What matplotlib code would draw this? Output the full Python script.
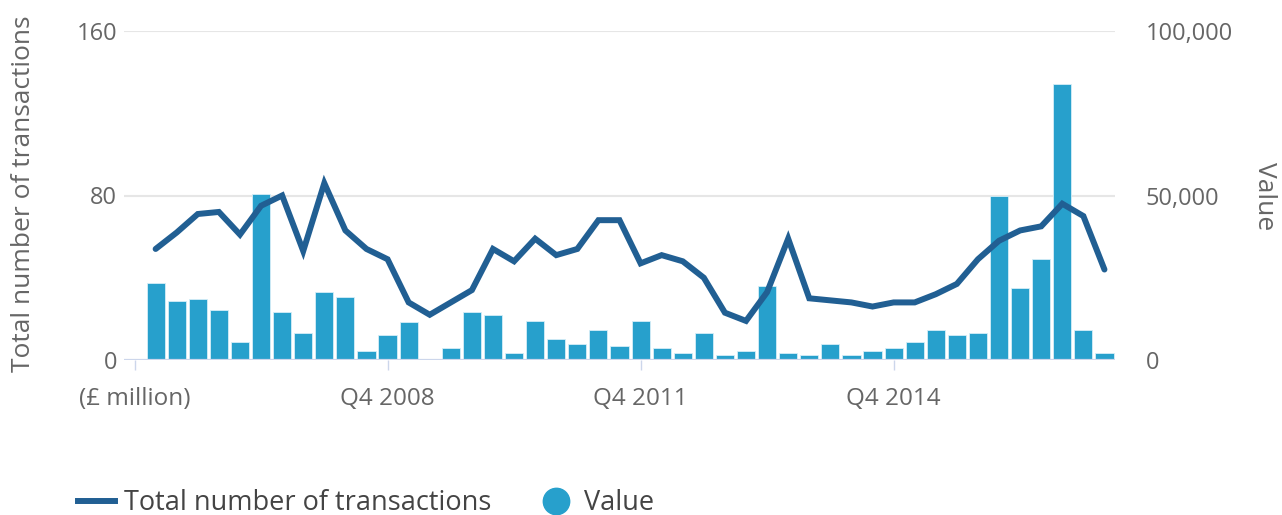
import numpy as np
import matplotlib.pyplot as plt
from matplotlib.lines import Line2D

# categories: header row then quarters Q1 2006 .. Q2 2017
quarters = ["(£ million)"]
for year in range(2006, 2018):
    for q in range(1, 5):
        quarters.append("Q%d %d" % (q, year))
quarters = quarters[:47]

# total number of transactions (left axis)
transactions = [None, 54, 62, 71, 72, 61, 75, 80, 53, 86, 63,
                54, 49, 28, 22, 28, 34, 54, 48, 59, 51,
                54, 68, 68, 47, 51, 48, 40, 23, 19, 33,
                59, 30, 29, 28, 26, 28, 28, 32, 37, 49,
                58, 63, 65, 76, 70, 44]

# value, £ million (right axis)
value = [None, 23300, 17800, 18500, 15100, 5600, 50500, 14500, 8300, 20600, 19100,
         2800, 7600, 11600, None, 3600, 14500, 13800, 2200, 11800, 6300,
         5000, 9000, 4300, 11800, 3600, 2200, 8300, 1500, 2800, 22600,
         2200, 1500, 5000, 1500, 2800, 3600, 5600, 9000, 7600, 8300,
         49900, 21900, 30800, 83900, 9000, 2200]

tick_idx = [0, 12, 24, 36]

line_color = "#215f93"
bar_color = "#27a0cc"
text_color = "#666666"

plt.rcParams['font.family'] = ['Open Sans', 'DejaVu Sans']

fig = plt.figure(figsize=(12.82, 5.15), dpi=100)
ax = fig.add_axes([124 / 1282, 1 - 360 / 515, (1115 - 124) / 1282, (360 - 31) / 515])
ax2 = ax.twinx()

x = np.arange(len(quarters))
vals = np.array([np.nan if v is None else v for v in value], dtype=float)
trans = np.array([np.nan if v is None else v for v in transactions], dtype=float)

ax2.bar(x, vals, width=0.86, color=bar_color, edgecolor="#d6eef7", linewidth=0.6, zorder=2)
ax.plot(x, trans, color=line_color, linewidth=4.3, solid_capstyle="round",
        solid_joinstyle="miter", zorder=3)

ax.set_zorder(ax2.get_zorder() + 1)
ax.patch.set_visible(False)

ax.set_xlim(-0.5, 46.5)
ax.set_ylim(0, 160)
ax2.set_ylim(0, 100000)
ax.set_yticks([0, 80, 160])
ax2.set_yticks([0, 50000, 100000])
ax2.set_yticklabels(["0", "50,000", "100,000"])

# gridlines drawn by hand on the bar axis so they sit behind everything
for yv in [80, 160]:
    ax2.axhline(yv / 160 * 100000, color="#e6e6e6", linewidth=1.5, zorder=0)
ax2.axhline(0, color="#ccd6eb", linewidth=1.6, zorder=4)

ax.set_xticks(tick_idx)
ax.set_xticklabels([quarters[i] for i in tick_idx])

for a in (ax, ax2):
    for s in a.spines.values():
        s.set_visible(False)

ax.tick_params(axis="x", length=7.5, width=1, color="#ccd6eb", labelcolor=text_color,
               labelsize=17.5, pad=12)
ax.tick_params(axis="y", length=0, labelcolor=text_color, labelsize=17, pad=5)
ax2.tick_params(axis="y", length=0, labelcolor=text_color, labelsize=17, pad=22)

ax.set_ylabel("Total number of transactions", color=text_color, fontsize=19, va="center")
ax.yaxis.set_label_coords(-0.101, 0.505)
ax2.set_ylabel("Value", color=text_color, fontsize=19, rotation=270, va="center")
ax2.yaxis.set_label_coords(1.151, 0.498)

handles = [
    Line2D([0], [0], color=line_color, linewidth=4.3),
    Line2D([0], [0], color=bar_color, marker="o", linestyle="none", markersize=19),
]
fig.legend(handles, ["Total number of transactions", "Value"], loc="center left",
           bbox_to_anchor=(78 / 1282, 1 - 503 / 515), ncol=2, frameon=False, fontsize=19.5,
           labelcolor="#444444", handlelength=1.38, handletextpad=0.32, columnspacing=1.7,
           borderpad=0, borderaxespad=0)

fig.savefig("out.png", dpi=100)
